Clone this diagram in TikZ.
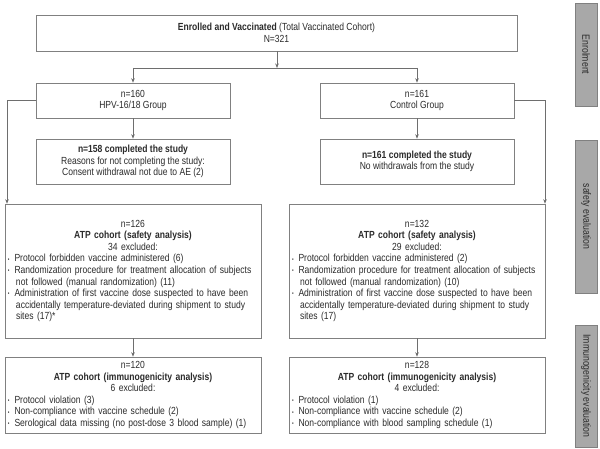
\documentclass[tikz,border=0pt]{standalone}
\usepackage{fontspec}
\setmainfont{Liberation Sans}[FakeStretch=0.83]
\usetikzlibrary{arrows.meta}
\definecolor{boxgray}{HTML}{808080}
\definecolor{linegray}{HTML}{6E6E6E}
\definecolor{txt}{HTML}{2B2B2B}
\definecolor{barfill}{HTML}{A8A8A8}
\definecolor{bardraw}{HTML}{808080}
\newcommand\blt{\makebox[6.5pt][l]{\raisebox{0.8pt}{\scalebox{0.55}{\textbullet}}}}
\newcommand\cont{\hspace*{8pt}}
\begin{document}
\begin{tikzpicture}[x=1pt,y=-1pt,
  box/.style={draw=boxgray, line width=0.6pt, inner sep=0pt, text=txt,
    font=\fontsize{10.3}{11.6}\selectfont, align=center},
  listbox/.style={draw=boxgray, line width=0.6pt, inner xsep=3pt, inner ysep=0pt, text=txt,
    font=\fontsize{10.3}{11.6}\selectfont},
  bar/.style={draw=bardraw, fill=barfill, line width=0.6pt, rotate=-90, text=txt,
    minimum height=22pt, inner sep=0pt, font=\fontsize{10.5}{11}\selectfont},
  conn/.style={draw=linegray, line width=0.6pt},
  arr/.style={conn, -{Stealth[length=4.5pt,width=3.5pt]}}
]
\useasboundingbox (0,0) rectangle (600,449);
\fill[white] (0,0) rectangle (600,449);

% top box
\node[box, minimum width=481pt, minimum height=36pt] (top) at (276.5,33)
  {\textbf{Enrolled and Vaccinated} (Total Vaccinated Cohort)\\N=321};

% groups
\node[box, minimum width=194pt, minimum height=35pt] (hpv) at (133,100.5)
  {n=160\\HPV-16/18 Group};
\node[box, minimum width=194pt, minimum height=35pt] (ctl) at (417,100.5)
  {n=161\\Control Group};

% completed
\node[box, minimum width=194pt, minimum height=45pt] (compL) at (133,161.5)
  {\textbf{n=158 completed the study}\\Reasons for not completing the study:\\Consent withdrawal not due to AE (2)};
\node[box, minimum width=194pt, minimum height=45pt] (compR) at (417,161.5)
  {\textbf{n=161 completed the study}\\No withdrawals from the study};

% ATP safety
\node[listbox, minimum width=256pt, text width=250pt, minimum height=134pt] (atpL) at (133,271)
  {{\centering n=126\\\textbf{ATP cohort (safety analysis)}\\34 excluded:\par}
   \raggedright
   \blt Protocol forbidden vaccine administered (6)\\
   \blt Randomization procedure for treatment allocation of subjects\\
   \cont not followed (manual randomization) (11)\\
   \blt Administration of first vaccine dose suspected to have been\\
   \cont accidentally temperature-deviated during shipment to study\\
   \cont sites (17)*\par};
\node[listbox, minimum width=256pt, text width=250pt, minimum height=134pt] (atpR) at (417,271)
  {{\centering n=132\\\textbf{ATP cohort (safety analysis)}\\29 excluded:\par}
   \raggedright
   \blt Protocol forbidden vaccine administered (2)\\
   \blt Randomization procedure for treatment allocation of subjects\\
   \cont not followed (manual randomization) (10)\\
   \blt Administration of first vaccine dose suspected to have been\\
   \cont accidentally temperature-deviated during shipment to study\\
   \cont sites (17)\par};

% ATP immunogenicity
\node[listbox, minimum width=256pt, text width=250pt, minimum height=76pt] (immL) at (133,395)
  {{\centering n=120\\\textbf{ATP cohort (immunogenicity analysis)}\\6 excluded:\par}
   \raggedright
   \blt Protocol violation (3)\\
   \blt Non-compliance with vaccine schedule (2)\\
   \blt Serological data missing (no post-dose 3 blood sample) (1)\par};
\node[listbox, minimum width=256pt, text width=250pt, minimum height=76pt] (immR) at (417,395)
  {{\centering n=128\\\textbf{ATP cohort (immunogenicity analysis)}\\4 excluded:\par}
   \raggedright
   \blt Protocol violation (1)\\
   \blt Non-compliance with vaccine schedule (2)\\
   \blt Non-compliance with blood sampling schedule (1)\par};

% side bars
\node[bar, minimum width=103pt] (barE) at (586,54.5) {Enrolment};
\node[bar, minimum width=153pt] (barS) at (586,216.5) {safety evaluation};
\node[bar, minimum width=122pt] (barI) at (586,386) {Immunogenicity evaluation};

% connectors
\coordinate (split) at (277,68);
\coordinate (splitL) at (133,68);
\coordinate (splitR) at (417,68);
\draw[arr] (top.south -| split) -- (split);
\draw[conn] (splitL) -- (splitR);
\draw[arr] (splitL) -- (hpv.north);
\draw[arr] (splitR) -- (ctl.north);
\draw[arr] (hpv.south) -- (compL.north);
\draw[arr] (ctl.south) -- (compR.north);
\coordinate (lcorner) at (7,100.5);
\coordinate (rcorner) at (545,100.5);
\draw[arr] (hpv.west) -- (lcorner) -- (lcorner |- atpL.north);
\draw[arr] (ctl.east) -- (rcorner) -- (rcorner |- atpR.north);
\draw[arr] (atpL.south) -- (immL.north);
\draw[arr] (atpR.south) -- (immR.north);
\end{tikzpicture}
\end{document}
